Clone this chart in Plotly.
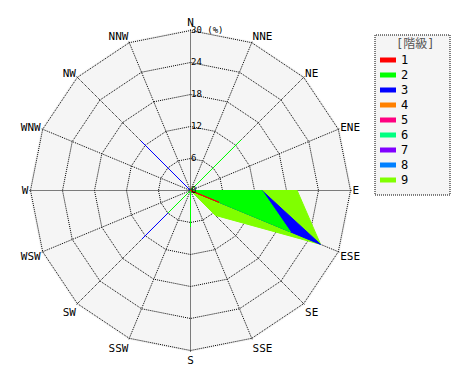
import plotly.graph_objects as go

directions = ["N", "NNE", "NE", "ENE", "E", "ESE", "SE", "SSE",
              "S", "SSW", "SW", "WSW", "W", "WNW", "NW", "NNW"]

class_names = ["1", "2", "3", "4", "5", "6", "7", "8", "9"]
class_colors = ["#ff0000", "#00ff00", "#0000ff", "#ff8000", "#ff0080",
                "#00ff80", "#8000ff", "#0080ff", "#80ff00"]

# cumulative frequency (%) per class, order as in `directions`
class1 = [0, 0, 0, 0, 0, 5.8, 0, 0, 0, 0, 0, 0, 0, 0, 0, 0]
class2 = [0, 0, 13.4, 0, 13.4, 20.3, 0, 0, 6.8, 0, 5.9, 0, 0, 0, 0, 0]
class3 = [0, 0, 13.4, 0, 13.4, 26.4, 0, 0, 6.8, 0, 12.9, 0, 0, 0, 13.1, 0]
class4 = [0] * 16
class5 = [0] * 16
class6 = [0] * 16
class7 = [0] * 16
class8 = [0] * 16
class9 = [0, 0, 13.4, 0, 20.0, 26.4, 6.6, 0, 6.8, 0, 12.9, 0, 0, 0, 13.1, 0]

radial_ticks = [0, 6, 12, 18, 24, 30]
radial_ticktext = ["0", "6", "12", "18", "24", "30 (%)"]
radial_max = 30

series = [class1, class2, class3, class4, class5, class6, class7, class8, class9]

FONT = "DejaVu Sans Mono, Noto Sans CJK JP"
fig = go.Figure()

# draw largest class first so smaller ones sit on top
for name, color, vals in reversed(list(zip(class_names, class_colors, series))):
    if max(vals) > 0:
        fig.add_trace(go.Scatterpolar(
            r=vals + vals[:1], theta=directions + directions[:1],
            mode="lines", fill="toself", fillcolor=color,
            line=dict(color=color, width=1), showlegend=False, hoverinfo="skip"))

# centre marker
fig.add_trace(go.Scatterpolar(r=[0], theta=["N"], mode="markers",
                              marker=dict(color="black", size=6),
                              showlegend=False, hoverinfo="skip"))

W, H = 470, 380
OFF = 8  # page body margin
pad = 1.01
cx, cy, R = 190.5 - OFF, 190.5 - OFF, 160 * pad

def px(x):
    return (x - OFF) / W

def py(y):
    return 1 - (y - OFF) / H

shapes = [dict(type="rect", xref="paper", yref="paper",
               x0=px(375), x1=px(450), y0=py(195), y1=py(35),
               line=dict(color="black", width=1, dash="1px,1px"),
               fillcolor="#f5f5f5", layer="below")]
annotations = [dict(text="[階級]", xref="paper", yref="paper",
                    x=px(415), y=py(44), xanchor="center", yanchor="middle",
                    showarrow=False,
                    font=dict(size=12, color="#555555", family=FONT))]
for i, (name, color) in enumerate(zip(class_names, class_colors)):
    yc = 60 + 15 * i
    shapes.append(dict(type="rect", xref="paper", yref="paper",
                       x0=px(380), x1=px(396), y0=py(yc + 2.5), y1=py(yc - 2.5),
                       line=dict(width=0), fillcolor=color, layer="above"))
    annotations.append(dict(text=name, xref="paper", yref="paper",
                            x=px(399), y=py(yc), xanchor="left", yanchor="middle",
                            showarrow=False,
                            font=dict(size=12, color="black", family=FONT)))

fig.update_layout(
    width=W, height=H,
    margin=dict(l=0, r=0, t=0, b=0),
    paper_bgcolor="white",
    showlegend=False,
    font=dict(family=FONT, size=11, color="black"),
    polar=dict(
        domain=dict(x=[(cx - R) / W, (cx + R) / W],
                    y=[1 - (cy + R) / H, 1 - (cy - R) / H]),
        bgcolor="#f5f5f5",
        gridshape="linear",
        angularaxis=dict(
            type="category", categoryarray=directions,
            direction="clockwise", rotation=90,
            showline=False, showgrid=True, gridcolor="black",
            griddash="1px,1px", gridwidth=1, ticks="",
            tickfont=dict(size=11, family=FONT)),
        radialaxis=dict(
            range=[0, radial_max * pad], angle=90, tickangle=90,
            tickvals=radial_ticks, ticktext=radial_ticktext,
            showline=False, showgrid=True, gridcolor="black",
            griddash="1px,1px", gridwidth=1, ticks="",
            tickfont=dict(size=9, family=FONT)),
    ),
    shapes=shapes,
    annotations=annotations,
)

fig.write_html("out.html")
